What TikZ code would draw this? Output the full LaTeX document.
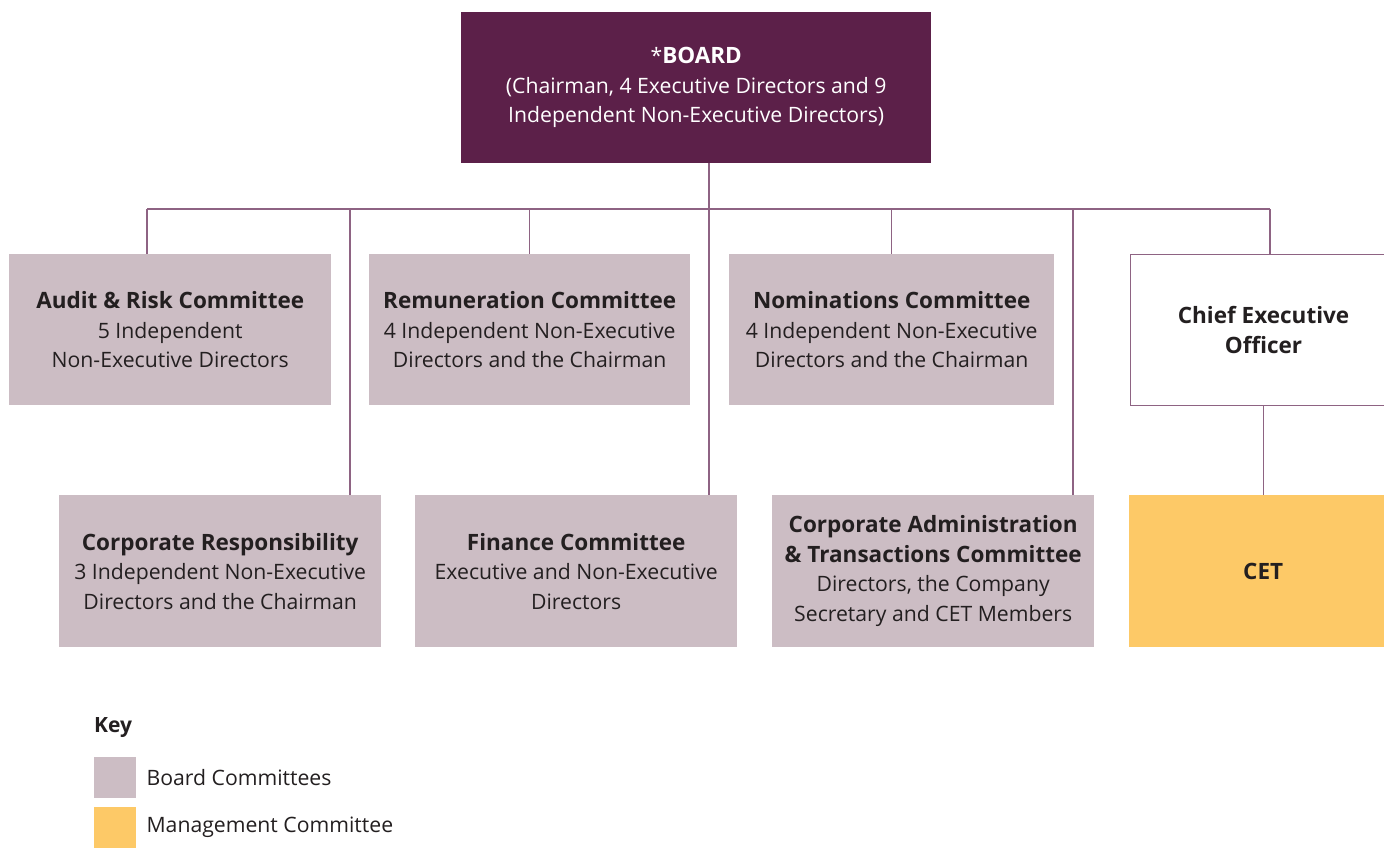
\documentclass[tikz,border=0pt]{standalone}
\usepackage{fontspec}
\setmainfont{Open Sans}
\usetikzlibrary{positioning,calc}

\definecolor{boardpurple}{HTML}{5C2049}
\definecolor{linepurple}{HTML}{8E6383}
\definecolor{cmtgrey}{HTML}{CCBDC4}
\definecolor{mgmtyellow}{HTML}{FDC967}
\definecolor{inkdark}{HTML}{231F20}

\newcommand{\cmttitle}[1]{{\fontsize{22.5}{29.5}\selectfont\bfseries #1}}

\tikzset{
  cmtbox/.style={fill=cmtgrey, text=inkdark, anchor=north west, align=center,
    minimum height=151, inner sep=0pt, font=\fontsize{21.2}{29.5}\selectfont},
  link/.style={draw=linepurple, line width=1.1pt},
  keybox/.style={anchor=north west, minimum width=42, minimum height=41, inner sep=0pt}
}

\begin{document}
\begin{tikzpicture}[x=1pt, y=-1pt]
  \useasboundingbox (0,0) rectangle (1384,848);

  % Board
  \node[fill=boardpurple, text=white, anchor=north west, align=center,
    minimum width=470, minimum height=151, inner sep=0pt,
    font=\fontsize{21.2}{29.5}\selectfont] (board) at (461,12)
    {*\cmttitle{BOARD}\\(Chairman, 4 Executive Directors and 9\\Independent Non-Executive Directors)};

  % Upper row of committees
  \node[cmtbox, minimum width=322] (audit) at (9,254)
    {\cmttitle{Audit \& Risk Committee}\\5 Independent\\Non-Executive Directors};
  \node[cmtbox, minimum width=321] (remun) at (369,254)
    {\cmttitle{Remuneration Committee}\\4 Independent Non-Executive\\Directors and the Chairman};
  \node[cmtbox, minimum width=325] (nomin) at (729,254)
    {\cmttitle{Nominations Committee}\\4 Independent Non-Executive\\Directors and the Chairman};
  \node[draw=linepurple, line width=1.1pt, fill=white, text=inkdark, anchor=north west,
    align=center, minimum width=266, minimum height=151, inner sep=0pt,
    font=\fontsize{22.5}{29.5}\selectfont\bfseries] (ceo) at (1130,254)
    {Chief Executive\\Officer};

  % Lower row of committees
  \node[cmtbox, minimum width=322, minimum height=152] (corpresp) at (59,495)
    {\cmttitle{Corporate Responsibility}\\3 Independent Non-Executive\\Directors and the Chairman};
  \node[cmtbox, minimum width=322, minimum height=152] (finance) at (415,495)
    {\cmttitle{Finance Committee}\\Executive and Non-Executive\\Directors};
  \node[cmtbox, minimum width=322, minimum height=152] (corpadmin) at (772,495)
    {\cmttitle{Corporate Administration}\\\cmttitle{\& Transactions Committee}\\Directors, the Company\\Secretary and CET Members};
  \node[fill=mgmtyellow, text=inkdark, anchor=north west, minimum width=268,
    minimum height=152, inner sep=0pt,
    font=\fontsize{22.5}{29.5}\selectfont\bfseries] (cet) at (1129,495) {CET};

  % Bus and taps
  \coordinate (busL) at (147,209);
  \coordinate (busR) at (1270,209);
  \coordinate (tapCR) at (350,209);
  \coordinate (tapB) at (709,209);
  \coordinate (tapCA) at (1073,209);

  \draw[link] (busL) -- (busR);
  \draw[link] (board.south -| tapB) -- (tapB |- finance.north);
  \draw[link] (busL) -- (busL |- audit.north);
  \draw[link] (remun.north |- busL) -- (remun.north);
  \draw[link] (nomin.north |- busL) -- (nomin.north);
  \draw[link] (busR) -- (busR |- ceo.north);
  \draw[link] (tapCR) -- (tapCR |- corpresp.north);
  \draw[link] (tapCA) -- (tapCA |- corpadmin.north);
  \draw[link] (ceo.south) -- (ceo.south |- cet.north);

  % Key
  \node[anchor=west, inner sep=0pt, text=inkdark,
    font=\fontsize{21}{24}\selectfont\bfseries] (keytitle) at (94,728) {Key};
  \node[keybox, fill=cmtgrey] (keygrey) at (94,757) {};
  \node[keybox, fill=mgmtyellow] (keyyellow) at (94,807) {};
  \node[right=10pt of keygrey, inner sep=0pt, text=inkdark,
    font=\fontsize{21.2}{24}\selectfont] (keygreylab) {Board Committees};
  \node[right=10pt of keyyellow, inner sep=0pt, text=inkdark,
    font=\fontsize{21.2}{24}\selectfont] (keyyellowlab) {Management Committee};
\end{tikzpicture}
\end{document}
